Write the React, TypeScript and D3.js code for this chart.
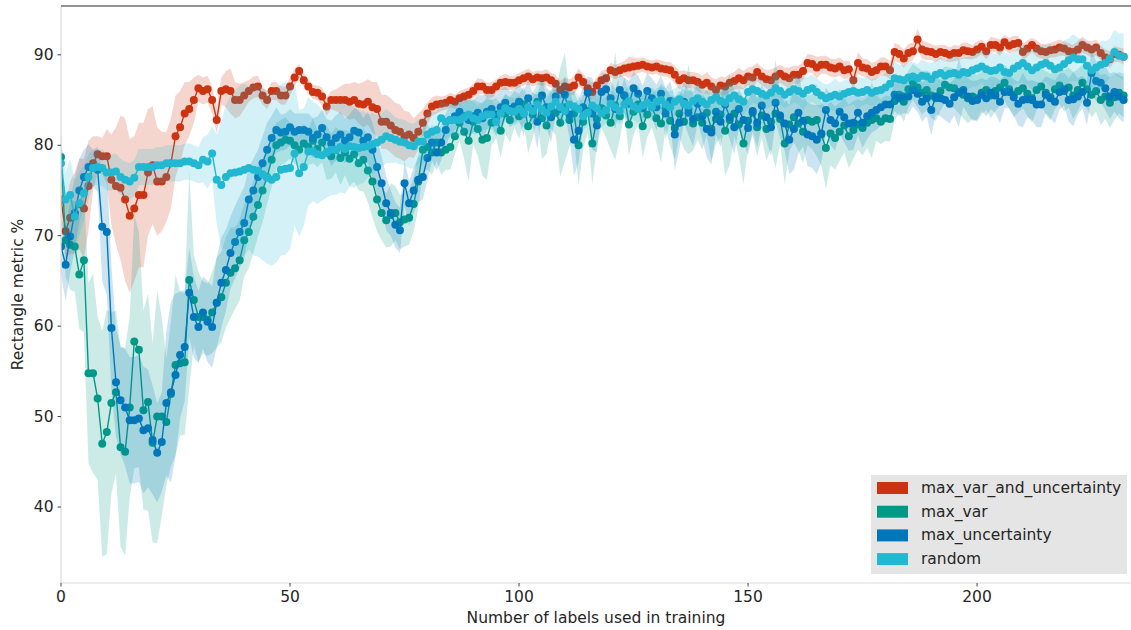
import React from "react";
import * as d3 from "d3";

// x positions: number of labels used in training (0..232)
const STEPS = d3.range(0, 233);

const SERIES_NAMES = ["max_var_and_uncertainty", "max_var", "max_uncertainty", "random"];
const SERIES_COLORS = ["#CC3311", "#009988", "#0077BB", "#22B8D2"];

const MAX_VAR_AND_UNC = [74,70.5,72,72.5,73.5,73,75.5,78,79,78.8,
78.8,76.2,75.5,75.3,74,72.2,73,74.5,74.5,77,
77.8,76,76,76.5,78,81,82,83.5,84,85,
86.3,86,86.2,85,82.8,86,86.2,86,85,85,
85.5,86,86.4,86.5,85.5,85,86,86,85.5,85.5,
86.5,87.5,88.2,87.2,86.5,85.9,85.8,85.4,84.3,85,
85,85,85,84.8,85,84.6,84.5,84.8,84.2,84,
82.6,82.6,82.2,81.7,81.5,81,81.2,80.8,81.5,82.5,
83.5,84.3,84.5,84.6,84.7,85,84.8,85.2,85.4,85.6,
86,86.5,86.5,86.1,86.1,86.5,86.9,87,86.9,86.9,
87.2,87.4,87.6,87.3,87.5,87.4,87.5,87.2,86.8,86.1,
86.5,86.4,86.6,87.5,87,86.3,85.9,86.6,87.2,87.4,
88.3,88.1,88.3,88.5,88.6,88.7,88.8,88.9,88.7,88.6,
88.7,88.5,88.4,88.3,87.8,87.2,87.4,87.2,87.2,87,
86.7,86.9,86.5,86.1,86.6,86.5,86.9,87.1,87.4,87.2,
87.6,87.5,88.1,87.6,87.3,87.2,87.6,87.9,87.6,87.4,
87.8,87.8,88.2,89.1,89,88.6,88.9,88.9,88.6,88.5,
88.7,88.3,88.4,87.2,89.1,88.6,88.5,88.1,88.3,88.7,
88.7,88.3,90.3,90.1,89.6,90.2,90.4,91.7,90.6,90.4,
90.3,90.1,90.3,90.2,90,90.2,90.2,90.5,90.4,90.3,
90.6,90.9,90.4,91.1,91.1,90.8,91.4,91,91.2,91.3,
90.3,90.7,91.1,90.7,90.4,90.3,90.5,90.6,90.8,90.7,
90.4,90.3,90.6,91.1,90.8,90.6,90.8,90.2,89.7,89.5,
90.1,90,89.8];

const MAX_VAR = [78.7,69.5,69,68.8,65.7,67.3,54.8,54.8,52,47,
48.3,51.5,52.7,46.6,46.1,51,58.3,57.4,50.7,51.6,
47.1,50,50,49.4,52.5,55.7,55.9,56,65.1,62.9,
61,61,60.7,61.5,62.6,63.2,64.8,65.9,66.4,67.3,
69.5,70.4,72.1,73.4,75,76.5,78.4,80,80.3,80.6,
80.5,80,79.5,80.2,79.8,80.5,79.6,80.3,79.2,78.8,
79.5,78.6,79.2,78.5,79,78,78.4,77.2,76,74,
72.5,71.7,72.3,72.5,71.5,71.8,72,73.5,76,79.5,
79.8,79.2,80.3,79.2,79.5,79.8,81,82.5,81.5,80.5,
82.6,81.8,80.6,80.8,82.5,83,81.6,83.5,82.8,84,
83.2,84.5,82.1,83.4,84.8,83,82.2,84,83.6,82.5,
84.2,82.8,83.5,80,82.6,83.8,80.2,82.9,84.1,83.3,
82.5,84.4,83.2,85.5,82.3,83.7,84.5,82.1,83.4,84.2,
83,82.4,84.1,82.7,81.9,83.5,82.6,84,82.4,83.1,
82.5,83.6,81.8,82.9,83.4,81.6,82.8,83.5,82.3,80.2,
82.7,83.6,82,83.3,81.8,82.6,83.5,82.9,80.2,82.3,
83.1,82.4,81.5,82.8,82.6,82.8,81.2,79.7,81.3,80.8,
81.5,82.2,81,81.7,82.3,81.9,82.5,82.8,83,82.6,
83,82.9,84.9,85.6,84.8,86.2,87,86.4,85.8,86.1,
85.5,85.2,86,86.7,86.4,86.3,85.9,85.6,85.2,85.4,
85.2,85.8,86.1,85.5,86,86.4,86.9,86.2,85.6,86,
86.3,85.7,85.2,86.1,86.5,85.8,85.3,86.2,86.6,86,
86.4,85.5,86.1,86.9,86.2,85.6,86,85,85.4,84.7,
85.3,85.8,85.5];

const MAX_UNC = [68.8,66.8,69.9,72.5,75,76.5,77.6,77.5,77.3,71,
70.4,59.8,53.8,51.8,51,49.6,49.6,49.8,48.5,48.7,
47.4,46,47.2,51.5,52.7,54.6,56.8,57.7,63.7,61,
59.9,61.5,60.5,59.9,62.6,64.8,66.2,68.1,69.3,70.4,
71.4,74,75,76.5,78,79.5,80.8,81.7,81.4,81.5,
82,81.5,81.7,81.7,81.5,80.8,81.2,81.9,80.9,80.2,
80.8,81.2,80.5,80.9,81.6,81.4,80.5,80.9,79.5,77.6,
75.8,73.6,72.5,71.2,70.6,75.8,73.6,75,76.2,76.5,
78.6,80.3,79.2,80.3,81.7,82.8,83.2,83.7,83.2,82.8,
83.2,83.6,83,83.7,84,83.4,84.2,84.7,84,84.3,
84.8,83.5,85.2,84,82.6,85.5,84.2,83.1,85.4,84,
85.6,83.4,80.6,81.6,84.2,85.8,83.5,82.2,85.9,86.2,
85.2,84,86.1,85.5,84.6,86.3,85.7,84.1,86,85.2,
84.2,85.7,83.5,84.9,81.2,82.5,84.8,83.6,82.9,84.6,
83.2,81.8,81.4,83.7,82.6,84.5,83.1,82,84,82.8,
81.9,83.8,82.5,84.4,83.1,82,84.7,83.3,82.4,80.6,
81.8,83.6,82.7,81.2,81,80.6,81.3,83.9,82.8,82.4,
83.7,83.1,82.4,82.5,83.6,82.5,83.2,83.6,83.9,84.2,
84.5,84.5,85.6,85.2,85.4,85.4,86.1,85.7,84.8,85.2,
83.9,85.4,85.2,85,84.6,85.3,85.8,86.1,85.4,84.9,
85,85.6,85.2,85.8,85.5,84.8,85.9,85.9,85.3,84.6,
85,85.1,85,84.5,84.5,85.6,85.2,84.8,85.9,86.2,
85,85.1,85.4,85.9,84.7,88,87.1,86.9,86.3,85.4,
85.9,85.4,85];

const RANDOM = [78,74,74.5,72.1,73.6,74.7,76.5,77.5,77.6,77.5,
77,77,77.1,76.5,76.2,76,76.4,77.6,77.6,77.6,
77.6,77.8,77.8,78,78,78,78,78.2,78.2,78,
77.8,78.4,78.2,79.1,76.2,75.6,76.5,76.9,77,77.1,
77.3,77.5,77.3,77.2,76.8,76.4,76.2,76.5,77.3,77.4,
77.5,79.1,76.9,77.6,79.3,79.3,79,78.9,79.2,79.5,
79.5,79.8,79.6,79.9,79.8,79.7,79.8,79.9,80.1,80.3,
80.6,81,80.8,80.6,80.4,80.3,80,79.9,80.4,80.4,
81.2,81.5,81.7,83,82.6,82.8,82.8,82.8,83.1,83.4,
83,82.8,83.2,83.4,83.4,82.6,83.5,84.1,83.8,83.7,
84,83.5,84.2,83.8,84.5,84,83.6,84.3,84.8,84.2,
83.8,84.5,84.3,84,83.2,83.6,84.4,84.1,83.5,83.9,
84.6,84.2,83.8,84.5,84.9,84.3,84,84.4,84.7,84.2,
84.8,85,84.5,84.2,84.8,85.1,84.6,84.4,84.9,85.2,
84.8,84.5,85,85.3,84.9,84.7,85.2,85.5,85.1,84.8,
85.9,86.2,86,85.7,85.5,85.8,86.3,86,85.6,85.9,
86.2,86,85.7,86.1,86.3,85.9,85.5,85.2,85.4,85.6,
85.4,85.7,85.9,86,85.8,85.9,86.1,85.8,86,86.1,
86.4,86.8,87.4,87.3,87.2,87.5,87.6,87.4,87.7,87.6,
87.3,87.8,88,87.7,87.9,88,87.8,88.1,88,88.3,
88.5,88.7,88.4,88.2,88.3,88.6,88.1,88,88.5,88.8,
89.1,88.7,88.3,88.6,88.9,89.1,88.8,88.4,88.6,89,
89.4,89.7,89.5,89.5,88.8,88.3,88.6,88.9,89.1,89.6,
90.3,89.9,89.8];

// standard deviations (half-widths of the shaded bands)
const SD_MAX_VAR_AND_UNC = [2,3,4,4.5,5,5.5,5,3,2,2,
3,5,6.5,8,9,8.5,8,8,8,7,
6.5,6,5.5,5,5,4.5,4,3.5,3,2.5,
1.5,1.5,1.5,1.5,1.5,1.5,2,2.5,2,1.8,
1.5,1.2,1.2,1.2,1,1,1,1,1,1,
1,1,0.8,0.8,0.8,0.8,0.8,1,1,1,
1.2,1.5,1.8,2,2,2.2,2.5,2.5,2.8,3,
3,3,3,3,3,2.8,2.5,2.2,2,1.5,
1.2,1,1,0.8,0.8,0.8,0.8,0.8,0.8,0.8,
0.8,0.9,0.8,0.8,0.9,0.8,0.8,0.9,0.8,0.8,
0.8,0.8,0.9,0.8,0.8,0.8,0.9,0.8,1,1,
1,0.9,1,1,0.9,1,1,0.9,1,1,
0.8,0.8,0.8,0.8,1.2,1,0.8,0.8,0.8,0.8,
0.8,0.9,0.8,0.9,1,1,0.9,0.9,0.9,1,
1,1.2,1,1.2,1,1,1,1,1.2,1,
1,1.2,1,1,1,1.2,1,1,1,1.2,
1,1,1,1,1,1.2,1,1,1,1,
1,1,1,1.2,1.2,1,1,1,1,1,
1,1,1,1,1,1,1,1.2,1,1,
0.9,0.9,0.8,0.9,0.8,0.9,0.8,0.9,0.9,0.8,
0.9,0.8,0.9,0.9,0.8,0.9,0.8,0.9,0.9,0.8,
0.9,0.9,0.8,0.9,0.8,0.9,0.8,0.9,0.9,0.8,
0.9,0.8,0.9,0.9,0.8,0.9,0.9,0.8,0.9,0.9,
0.9,0.8,0.9];

const SD_MAX_VAR = [3,4,5,5,6,8,10,11,9,12.5,
13.5,10,9,11,11.5,10,14,13,11,12,
11,14,11,7,8,10,8,8,12,5,
5,4,4,4.5,5,5,5,5,4.5,4.5,
4,4,4,3.5,3.5,3,3,2.5,2.5,2.5,
2,2,2,2.2,2,2.5,2,2.2,3,2.5,
2.5,3,2.5,3,3,3,3.5,3.5,4,3.5,
3,3,3.5,3,3,3,3,3,3,2.5,
2.5,2.5,2,2.5,2.2,2.5,2,2,3,4.5,
2.5,3,4,4.6,2.5,2.2,3,2.2,2.5,2,
2.5,2,3,2.5,2,4.5,3.2,2.2,2.5,6,
6,3,2.5,4.5,3,2.5,4.5,3,2.2,2.5,
3,6,2.5,2,3.5,2.5,2.2,3.5,2.5,2.2,
2.8,4.4,2.2,2.8,3.5,2.5,3,5,3,2.5,
3,2.5,3.5,2.8,2.5,5,5,2.5,3.5,4.5,
3,2.5,3.2,2.5,3.5,3,6,2.8,4.5,3,
2.8,3,3.5,2.8,3,4,3.5,4.5,3.5,3.5,
3.2,3,3.5,3.2,2.8,3,2.8,4.2,2.5,2.5,
2.5,2.5,2.2,2,2.2,2,2,2.2,2.4,2.2,
2.5,2.5,2.2,2,2.2,2.2,2.4,2.6,2.8,2.5,
2.6,2.4,2.2,2.5,2.2,2,2,2.2,2.5,2.4,
2.2,2.5,2.7,2.2,2,2.4,2.6,2.2,2,2.3,
2.2,2.6,2.3,2,2.2,2.5,2.3,2.8,2.5,2.8,
2.5,2.3,2.4];

const SD_MAX_UNC = [3,4,4,4,3.5,3,2.5,2,2.5,6,
7,7,6,6,6.5,7,7,7,7,6.5,
6,5.5,5.5,8,10,9,7,6,5,4.5,
4,4,4.5,4.5,5,5,4.5,4,4,4,
4,3.5,3.5,3,3,3,2.5,2.5,2,2,
2,2,1.8,1.8,2,2.2,2,2,2,2.5,
2.5,2.5,2.5,2.5,2.5,2.5,2.5,2.8,3,3,
3,3,2.5,2.5,2.5,2.5,2.5,2.5,2.5,2.5,
2.5,2,2,2,1.8,1.8,1.5,1.5,2,2,
1.8,2,2.5,2,1.8,2.2,2,1.8,2,1.8,
2,2.5,2,1.8,3,2,2.2,2.8,2,2.2,
2,2.5,4,3.5,2.2,1.8,4,3,2,1.8,
2,2.2,1.8,2,2.5,1.8,2,2.5,2,2.2,
2.5,2,2.8,2.2,4,3,2.2,2.5,3,2.2,
2.5,3.2,3.5,2.5,2.8,2.2,2.5,3,2.2,2.5,
3,2.2,2.8,2.2,2.5,3.2,2.2,2.5,3,3.8,
4.5,4.5,2.8,3.5,3.5,3.8,3.2,2.5,2.8,3,
2.5,2.8,3,3,2.5,2.8,2.5,2.2,2.2,2,
2,2,1.8,2,1.8,2,1.8,2,2.2,2,
2.8,2,2,2.2,2.2,2,3.8,1.8,2,2.2,
2.2,1.8,2,1.8,2,2.4,1.8,1.8,2,2.4,
3,2,2.2,2.5,2.5,2,2.2,2.4,2,1.8,
2.4,3,2,1.8,2.5,2.5,2.2,2.2,2.4,2.5,
2.2,2.4,2.5];

const SD_RANDOM = [2,3,4,4,3.5,3,2.5,2,2,2,
2,2,2,2,2,2,2,2,2,2,
2,2,2,2,2,2,2,2,2,2,
2,2.5,3,3,5,7,8,8.5,9,9.5,
9.5,9,9.5,9.5,9.5,9.5,9.5,9.5,9.5,9.5,
9,8,7,6.5,6,5.5,5.5,5,5,5,
5,5,5,4.5,4.5,4,4,3.5,3.5,3,
3,3,2.8,2.5,2.5,2.5,2.5,2.5,2.5,2.5,
2.5,2.2,2,2,2,1.8,1.8,1.8,1.8,1.8,
1.8,1.6,1.6,1.6,1.6,1.6,1.5,1.5,1.5,1.5,
1.5,1.5,1.5,1.5,1.5,1.5,1.5,1.5,1.5,1.5,
1.5,1.5,1.8,1.5,1.5,1.5,1.5,1.8,1.5,1.5,
1.5,1.5,1.5,1.5,1.8,1.5,1.5,1.5,1.5,1.5,
1.5,1.5,1.5,1.8,1.5,1.5,1.5,1.5,1.5,1.8,
1.5,1.5,1.5,1.5,1.5,1.8,1.5,1.5,1.5,1.5,
1.8,1.5,1.5,1.5,1.5,1.5,1.8,1.5,1.5,1.5,
1.5,1.5,1.8,1.5,1.5,1.5,1.5,1.5,1.5,1.8,
1.5,1.5,1.5,1.5,1.8,1.5,1.5,1.5,1.5,1.5,
1.6,1.8,1.8,1.6,1.6,1.8,1.6,1.6,1.8,1.6,
1.8,1.6,1.8,1.6,1.8,2,1.8,1.6,1.8,1.8,
2,1.8,2,2,1.8,2,2.2,2,1.8,2,
2.2,2,2.2,2.4,2.2,2,2.4,2.2,2.4,2.6,
2.4,2.6,2.4,2.2,2.6,2.8,2.4,2.6,2.4,2.2,
2.5,2.4,2.6];

const X_TICKS = [0, 50, 100, 150, 200];
const Y_TICKS = [40, 50, 60, 70, 80, 90];

const MEANS = [MAX_VAR_AND_UNC, MAX_VAR, MAX_UNC, RANDOM];
const SDS = [SD_MAX_VAR_AND_UNC, SD_MAX_VAR, SD_MAX_UNC, SD_RANDOM];

export default function App() {
  const W = 1131, H = 630;
  const left = 61, right = 1130.5, top = 6, bottom = 583;
  const x = d3.scaleLinear().domain([0, 233.5]).range([left, right]);
  const y = d3.scaleLinear().domain([31.6, 95.4]).range([bottom, top]);
  const font = "'DejaVu Sans', sans-serif";
  const fs = 15.5;
  const textColor = "#262626";

  const series = SERIES_NAMES.map((name, k) => {
    const pts = STEPS.map((s, i) => ({ s, m: MEANS[k][i], sd: SDS[k][i] }));
    const area = d3.area<any>()
      .x((d) => x(d.s))
      .y0((d) => y(d.m - d.sd))
      .y1((d) => y(d.m + d.sd))(pts) as string;
    const line = d3.line<any>().x((d) => x(d.s)).y((d) => y(d.m))(pts) as string;
    return { name, color: SERIES_COLORS[k], pts, area, line };
  });

  return (
    <div style={{ position: "absolute", left: 0, top: 0, width: W, height: H, background: "#fff" }}>
      <svg width={W} height={H} style={{ display: "block" }}>
        <defs>
          <clipPath id="plotclip">
            <rect x={left} y={top} width={right - left + 2} height={bottom - top} />
          </clipPath>
        </defs>
        <rect x={0} y={0} width={W} height={H} fill="#fff" />
        <g clipPath="url(#plotclip)">
          {series.map((s) => (
            <g key={s.name}>
              <path d={s.area} fill={s.color} fillOpacity={0.2} stroke="none" />
              <path d={s.line} fill="none" stroke={s.color} strokeWidth={1.4} />
              {s.pts.map((p) => (
                <circle key={p.s} cx={x(p.s)} cy={y(p.m)} r={4} fill={s.color} />
              ))}
            </g>
          ))}
        </g>
        {/* spines */}
        <line x1={left} x2={left} y1={top} y2={bottom} stroke="#d9d9d9" strokeWidth={1.2} />
        <line x1={left} x2={W} y1={bottom} y2={bottom} stroke="#d9d9d9" strokeWidth={1.2} />
        <line x1={left} x2={W} y1={top} y2={top} stroke="#707070" strokeWidth={1.5} />
        {/* y ticks */}
        {Y_TICKS.map((t) => (
          <g key={t}>
            <line x1={left - 3.5} x2={left} y1={y(t)} y2={y(t)} stroke="#444" strokeWidth={1} />
            <text x={left - 7.5} y={y(t)} textAnchor="end" dominantBaseline="central"
              fontFamily={font} fontSize={fs} fill={textColor}>{t}</text>
          </g>
        ))}
        {/* x ticks */}
        {X_TICKS.map((t) => (
          <g key={t}>
            <line x1={x(t)} x2={x(t)} y1={bottom} y2={bottom + 3.5} stroke="#444" strokeWidth={1} />
            <text x={x(t)} y={bottom + 18.5} textAnchor="middle"
              fontFamily={font} fontSize={fs} fill={textColor}>{t}</text>
          </g>
        ))}
        <text x={(left + W) / 2} y={622.5} textAnchor="middle" fontFamily={font} fontSize={fs} fill={textColor}>
          Number of labels used in training
        </text>
        <text transform={`translate(18, ${(top + bottom) / 2}) rotate(-90)`} textAnchor="middle"
          dominantBaseline="central" fontFamily={font} fontSize={fs} fill={textColor}>
          Rectangle metric %
        </text>
        {/* legend */}
        <g>
          <rect x={871} y={475} width={256} height={99} fill="#e5e5e5" />
          {series.map((s, k) => (
            <g key={s.name} transform={`translate(0, ${488 + k * 23.7})`}>
              <rect x={877} y={-6} width={31} height={12} fill={s.color} />
              <text x={921} y={0} dominantBaseline="central" fontFamily={font} fontSize={fs} fill={textColor}>
                {s.name}
              </text>
            </g>
          ))}
        </g>
      </svg>
    </div>
  );
}
